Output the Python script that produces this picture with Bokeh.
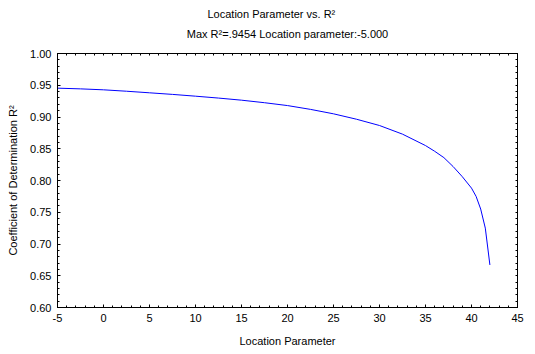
from bokeh.plotting import figure
from bokeh.models import LinearAxis, Title, FixedTicker, Range1d
from bokeh.embed import file_html
from bokeh.resources import INLINE

# Data
location = [-5, -2.5, 0, 2.5, 5, 7.5, 10, 12.5, 15, 17.5, 20, 22.5, 25, 27.5, 30, 32.5,
            35, 36, 37, 38, 39, 40, 40.5, 41, 41.5, 42]
r_squared = [0.9454, 0.9443, 0.9428, 0.9406, 0.9381, 0.9356, 0.9328, 0.9298, 0.9265, 0.9225,
             0.9180, 0.9120, 0.9050, 0.8965, 0.8866, 0.8730, 0.8550, 0.8460, 0.8360, 0.8220,
             0.8060, 0.7880, 0.7750, 0.7550, 0.7250, 0.6670]
x_ticks = [-5, 0, 5, 10, 15, 20, 25, 30, 35, 40, 45]
y_ticks = [0.60, 0.65, 0.70, 0.75, 0.80, 0.85, 0.90, 0.95, 1.00]
title_text = "Location Parameter vs. R\u00b2"
subtitle_text = "Max R\u00b2=.9454 Location parameter:-5.000"
x_label = "Location Parameter"
y_label = "Coefficient of Determination R\u00b2"

FONT = "Liberation Sans"

p = figure(width=535, height=354, output_backend="svg", toolbar_location=None,
           x_range=Range1d(-5, 45), y_range=Range1d(0.60, 1.00),
           x_axis_type=None, y_axis_type=None,
           frame_width=460, frame_height=254,
           min_border_left=57, min_border_right=18, min_border_top=53, min_border_bottom=47)
p.title = None
p.xgrid.visible = False
p.ygrid.visible = False
p.outline_line_color = "black"
p.outline_line_width = 1
p.background_fill_color = "white"
p.border_fill_color = "white"

x_minor = [-5 + i for i in range(51)]
y_minor = [round(0.60 + 0.01 * i, 2) for i in range(41)]


def style(ax):
    ax.major_tick_in = 3
    ax.major_tick_out = 0
    ax.minor_tick_in = 2
    ax.minor_tick_out = 0
    ax.axis_line_color = "black"
    ax.major_tick_line_color = "black"
    ax.minor_tick_line_color = "black"
    ax.major_label_text_font = FONT
    ax.major_label_text_font_size = "11px"
    ax.major_label_text_color = "black"
    ax.axis_label_text_font = FONT
    ax.axis_label_text_font_size = "11px"
    ax.axis_label_text_font_style = "normal"
    ax.axis_label_text_color = "black"


xb = LinearAxis(ticker=FixedTicker(ticks=x_ticks, minor_ticks=x_minor), axis_label=x_label)
style(xb)
xb.major_label_overrides = {t: str(t) for t in x_ticks}
xb.major_label_standoff = 6
xb.axis_label_standoff = 10
p.add_layout(xb, "below")

yl = LinearAxis(ticker=FixedTicker(ticks=y_ticks, minor_ticks=y_minor), axis_label=y_label)
style(yl)
yl.major_label_overrides = {t: f"{t:.2f}" for t in y_ticks}
yl.major_label_standoff = 6
yl.axis_label_standoff = 8
p.add_layout(yl, "left")

# top and right frame ticks (no labels): minor ticks only
xa = LinearAxis(ticker=FixedTicker(ticks=[], minor_ticks=x_minor))
style(xa)
xa.major_label_standoff = 0
p.add_layout(xa, "above")

yr = LinearAxis(ticker=FixedTicker(ticks=[], minor_ticks=y_minor))
style(yr)
yr.major_label_standoff = 0
p.add_layout(yr, "right")

p.add_layout(Title(text=subtitle_text, align="center", text_font=FONT, text_font_size="11px",
                   text_font_style="normal", text_color="black", standoff=28), "above")
p.add_layout(Title(text=title_text, align="left", offset=150, text_font=FONT, text_font_size="11px",
                   text_font_style="normal", text_color="black", standoff=-16), "above")

p.line(location, r_squared, line_color="#0000ff", line_width=1)

open("out.html", "w").write(file_html(p, INLINE))
